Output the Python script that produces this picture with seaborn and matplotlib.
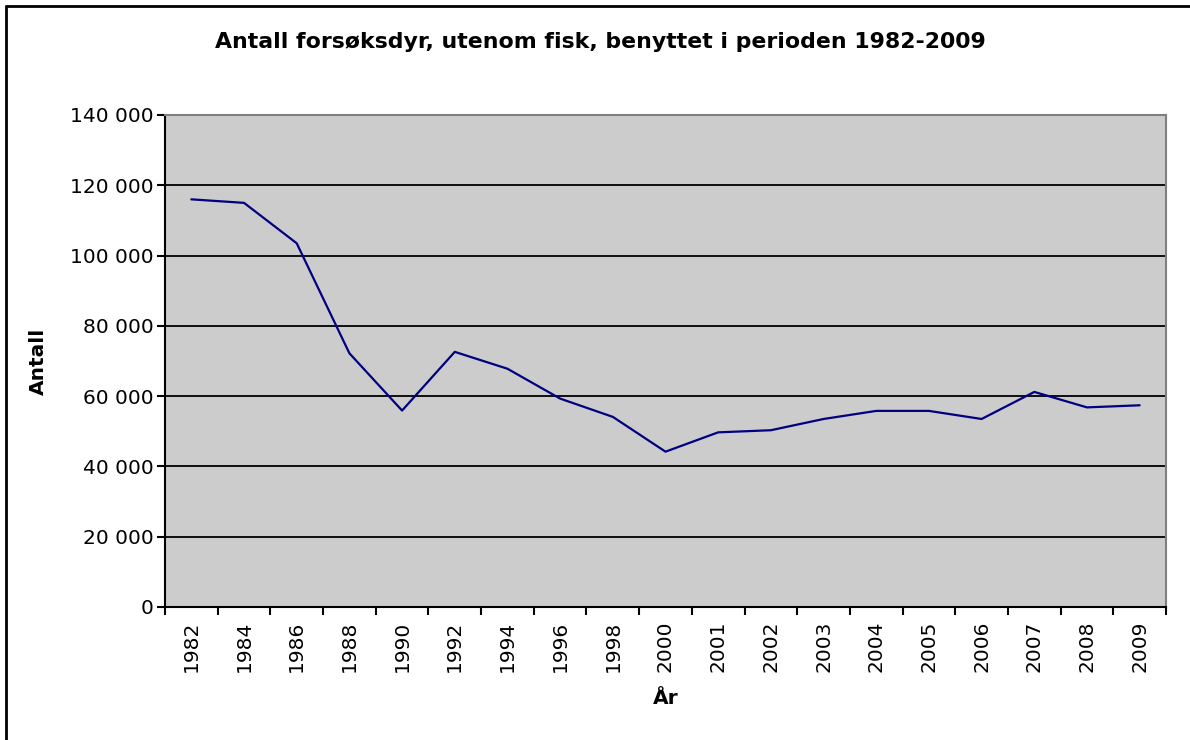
import matplotlib
matplotlib.use('Agg')
import matplotlib.pyplot as plt
import matplotlib.ticker as mticker
from matplotlib.lines import Line2D
import seaborn as sns
import pandas as pd

# Data
years = ['1982', '1984', '1986', '1988', '1990', '1992', '1994', '1996', '1998', '2000',
         '2001', '2002', '2003', '2004', '2005', '2006', '2007', '2008', '2009']
antall = [116000, 115000, 103500, 72200, 55900, 72600, 67800, 59300, 54100, 44200,
          49700, 50300, 53500, 55800, 55800, 53500, 61200, 56800, 57400]

df = pd.DataFrame({'aar': years, 'antall': antall})

sns.set_style('white')
plt.rcParams['font.family'] = ['DejaVu Sans']
plt.rcParams['text.color'] = 'black'
plt.rcParams['axes.labelcolor'] = 'black'
plt.rcParams['xtick.color'] = 'black'
plt.rcParams['ytick.color'] = 'black'

fig = plt.figure(figsize=(11.9, 7.4), dpi=100)
ax = fig.add_axes([165 / 1190, 1 - 607 / 740, (1166 - 165) / 1190, (607 - 115) / 740])
ax.set_facecolor('#CCCCCC')

sns.lineplot(data=df, x='aar', y='antall', sort=False, color='#000080', linewidth=1.6, ax=ax)

# Axes ranges and ticks
ax.set_xlim(-0.5, len(years) - 0.5)
ax.set_ylim(0, 140000)
ax.yaxis.set_major_locator(mticker.MultipleLocator(20000))
ax.yaxis.set_major_formatter(mticker.FuncFormatter(lambda v, p: f'{int(v):,}'.replace(',', ' ')))
ax.set_xticks(range(len(years)))
ax.set_xticklabels(years, rotation=90)
ax.set_xticks([i - 0.5 for i in range(len(years) + 1)], minor=True)
ax.tick_params(axis='x', which='major', length=0, pad=10, labelsize=14.5)
ax.tick_params(axis='x', which='minor', length=6, width=1.5, direction='out', bottom=True)
ax.tick_params(axis='y', length=6, width=1.5, direction='out', left=True, labelsize=14.5, pad=2)

ax.grid(axis='y', color='black', linewidth=1.3)
ax.set_axisbelow(True)

for s in ['left', 'bottom']:
    ax.spines[s].set_color('black')
    ax.spines[s].set_linewidth(1.5)
for s in ['top', 'right']:
    ax.spines[s].set_color('#808080')
    ax.spines[s].set_linewidth(1.5)

ax.set_xlabel('År', fontsize=14.5, fontweight='bold', labelpad=12)
ax.set_ylabel('Antall', fontsize=14.5, fontweight='bold', labelpad=16)
fig.text(600 / 1190, 1 - 42 / 740, 'Antall forsøksdyr, utenom fisk, benyttet i perioden 1982-2009',
         ha='center', va='center', fontsize=15.8, fontweight='bold')

# Chart frame (left and top edges visible)
fig.add_artist(Line2D([6 / 1190, 6 / 1190], [0, 1 - 6 / 740], color='black', linewidth=2))
fig.add_artist(Line2D([6 / 1190, 1], [1 - 6 / 740, 1 - 6 / 740], color='black', linewidth=2))

fig.savefig('out.png', dpi=100)
plt.close()
